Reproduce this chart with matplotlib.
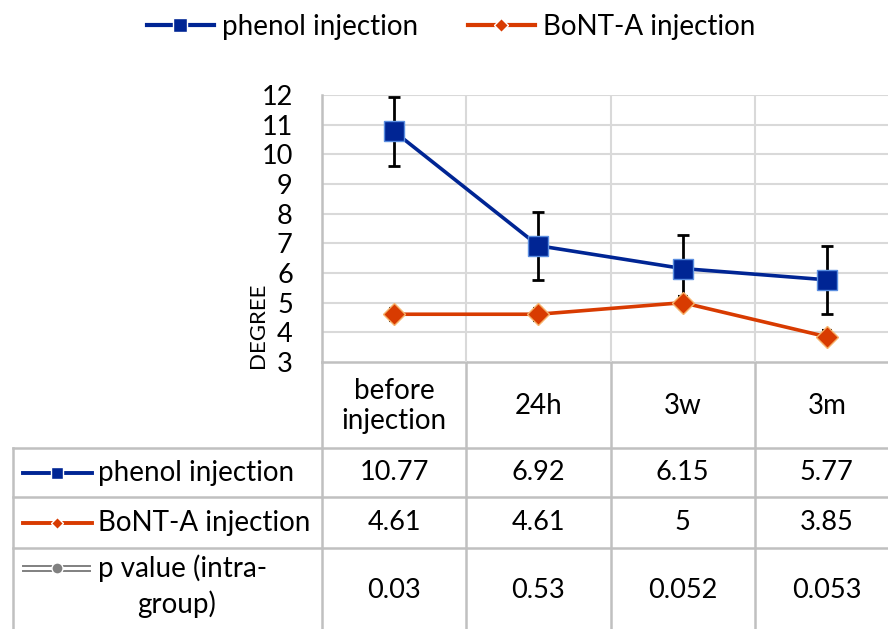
import numpy as np
import matplotlib.pyplot as plt
from matplotlib.lines import Line2D

plt.rcParams['font.family'] = ['Lato', 'DejaVu Sans']

# data
categories = ["before\ninjection", "24h", "3w", "3m"]
phenol = [10.77, 6.92, 6.15, 5.77]
phenol_err = [1.15, 1.15, 1.13, 1.15]
bont = [4.61, 4.61, 5.0, 3.85]
bont_err = [0.22, 0.22, 0.22, 0.22]
bont_labels = ["4.61", "4.61", "5", "3.85"]
p_values = ["0.03", "0.53", "0.052", "0.053"]
series_names = ["phenol injection", "BoNT-A injection", "p value (intra-\ngroup)"]

blue = "#002594"
orange = "#d83b01"
grey = "#c0c0c0"

W, H = 888, 629
fig = plt.figure(figsize=(W / 100, H / 100), dpi=100)

# background axes in pixel units for the data table
bg = fig.add_axes([0, 0, 1, 1])
bg.set_xlim(0, W)
bg.set_ylim(H, 0)
bg.axis("off")

x0, x1 = 322, 899
col_w = (x1 - x0) / len(categories)
cols = [x0 + i * col_w for i in range(len(categories) + 1)]
rows = [362, 448, 497, 548, 660]
left = 13

lw_t = 1.8
# horizontal table lines
bg.plot([x0, x1], [rows[0], rows[0]], color=grey, lw=lw_t)
for r in rows[1:4]:
    bg.plot([left, x1], [r, r], color=grey, lw=lw_t)
# vertical table lines
for c in cols:
    bg.plot([c, c], [rows[0], rows[-1]], color=grey, lw=lw_t)
bg.plot([left, left], [rows[1], rows[-1]], color=grey, lw=lw_t)

fs = 20
fn = 19.5
centers = [(cols[i] + cols[i + 1]) / 2 for i in range(len(categories))]
for i, cat in enumerate(categories):
    bg.text(centers[i], (rows[0] + rows[1]) / 2 + 1, cat, ha="center", va="center",
            fontsize=fs, linespacing=1.2)
    bg.text(centers[i], (rows[1] + rows[2]) / 2, f"{phenol[i]:.2f}", ha="center", va="center", fontsize=fn)
    bg.text(centers[i], (rows[2] + rows[3]) / 2, bont_labels[i], ha="center", va="center", fontsize=fn)
    bg.text(centers[i], 590, p_values[i], ha="center", va="center", fontsize=fn)

# row labels with legend keys
ry = [(rows[1] + rows[2]) / 2, (rows[2] + rows[3]) / 2]
bg.plot([23, 92], [ry[0], ry[0]], color=blue, lw=2.8)
bg.plot([57], [ry[0]], marker="s", ms=8, color=blue, mec="white", mew=1)
bg.plot([23, 92], [ry[1], ry[1]], color=orange, lw=2.8)
bg.plot([57], [ry[1]], marker="D", ms=6, color=orange, mec="white", mew=1)
for dy in (-2.5, 2.5):
    bg.plot([23, 90], [568 + dy, 568 + dy], color="#808080", lw=1.4)
bg.plot([57], [568], marker="o", ms=8, color="#808080", mec="white", mew=1)
bg.text(98, ry[0], series_names[0], ha="left", va="center", fontsize=fs)
bg.text(98, ry[1], series_names[1], ha="left", va="center", fontsize=fs)
p_lines = series_names[2].split("\n")
bg.text(98, 568, p_lines[0], ha="left", va="center", fontsize=fs)
bg.text(137, 604, p_lines[1], ha="left", va="center", fontsize=fs)

# chart axes
ax = fig.add_axes([x0 / W, 1 - 362 / H, (x1 - x0) / W, (362 - 95) / H])
ax.patch.set_alpha(0)
x = np.arange(len(categories))
ax.set_xlim(-0.5, len(categories) - 0.5)
ax.set_ylim(3, 12)
ax.set_yticks(range(3, 13))
ax.set_xticks([])
ax.tick_params(axis="y", length=0, labelsize=19.5, pad=21)
for yv in range(4, 13):
    ax.axhline(yv, color="#d9d9d9", lw=1.5, zorder=0)
for c in cols[1:]:
    ax.axvline((c - x0) / col_w - 0.5, color="#d9d9d9", lw=1.5, zorder=0)
for s in ["top", "right", "bottom"]:
    ax.spines[s].set_visible(False)
ax.spines["left"].set_color(grey)
ax.spines["left"].set_linewidth(lw_t)

ax.errorbar(x, phenol, yerr=phenol_err, fmt="none", ecolor="black", elinewidth=2,
            capsize=4.5, capthick=2, zorder=2)
ax.errorbar(x, bont, yerr=bont_err, fmt="none", ecolor="black", elinewidth=1.5,
            capsize=3.5, capthick=1.5, zorder=2)
ax.plot(x, phenol, color=blue, lw=2.6, marker="s", ms=14, mfc=blue,
        mec="#5b8ee0", mew=1, zorder=3, label="phenol injection")
ax.plot(x, bont, color=orange, lw=2.6, marker="D", ms=11, mfc=orange,
        mec="#f5b26b", mew=1, zorder=3, label="BoNT-A injection")

fig.text(258 / W, 1 - 325 / H, "DEGREE", rotation=90, ha="center", va="center", fontsize=16)

handles = [Line2D([], [], color=blue, lw=3, marker="s", ms=10, mec="white", mew=1),
           Line2D([], [], color=orange, lw=3, marker="D", ms=7, mec="white", mew=1)]
fig.legend(handles, series_names[:2], loc="center", bbox_to_anchor=(0.508, 1 - 27 / H),
           ncol=2, frameon=False, fontsize=fs, handlelength=2.4, columnspacing=1.8,
           handletextpad=0.3)

fig.savefig("out.png", dpi=100)
